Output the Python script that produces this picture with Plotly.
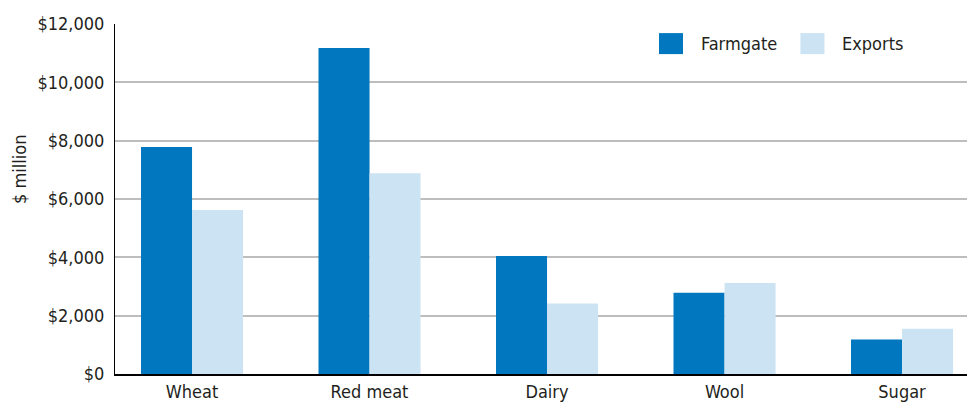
import plotly.graph_objects as go

categories = ["Wheat", "Red meat", "Dairy", "Wool", "Sugar"]
series_names = ["Farmgate", "Exports"]
farmgate = [7780, 11180, 4050, 2790, 1180]
exports = [5620, 6880, 2420, 3120, 1550]
y_ticks = [0, 2000, 4000, 6000, 8000, 10000, 12000]
y_tick_labels = ["$" + format(v, ",d") for v in y_ticks]
y_title = "$ million"

colors = ["#0077BF", "#CCE3F3"]
FONT = "DejaVu Sans Condensed, Liberation Sans Narrow, Roboto, sans-serif"
TXT = "#231F20"

fig = go.Figure()
for name, vals, col in zip(series_names, [farmgate, exports], colors):
    fig.add_trace(go.Bar(x=categories, y=vals, name=name, marker_color=col,
                         marker_line_width=0, showlegend=False))

fig.update_layout(
    width=967, height=402,
    margin=dict(l=115, r=0, t=24, b=28),
    paper_bgcolor="white", plot_bgcolor="white",
    barmode="group", bargap=0.425, bargroupgap=0,
    font=dict(family=FONT, size=18, color=TXT),
)
fig.update_xaxes(range=[-0.434, 4.366], showline=True, linecolor="black", linewidth=2,
                 showgrid=False, ticks="", tickfont=dict(size=18))
fig.update_yaxes(range=[0, 12000], tickvals=y_ticks, ticktext=y_tick_labels,
                 showgrid=True, gridcolor="#BDBDBD", gridwidth=2,
                 showline=True, linecolor="black", linewidth=1, ticks="",
                 ticklabelstandoff=6, zeroline=False)

# y-axis title (placed slightly above centre, as in the original)
fig.add_annotation(xref="paper", yref="paper", x=-0.1115, y=0.583, text=y_title,
                   textangle=-90, showarrow=False, xanchor="center", yanchor="middle",
                   font=dict(size=18, color=TXT))

# legend drawn as swatches + labels
leg = [(0.6385, 0.6667, 0.686), (0.8045, 0.8327, 0.8515)]
for (x0, x1, xt), name, col in zip(leg, series_names, colors):
    fig.add_shape(type="rect", xref="paper", yref="paper", x0=x0, x1=x1,
                  y0=0.914, y1=0.974, fillcolor=col, line_width=0)
    fig.add_annotation(xref="paper", yref="paper", x=xt, y=0.944, text=name,
                       showarrow=False, xanchor="left", yanchor="middle",
                       font=dict(size=18, color=TXT))

fig.write_html("out.html")
